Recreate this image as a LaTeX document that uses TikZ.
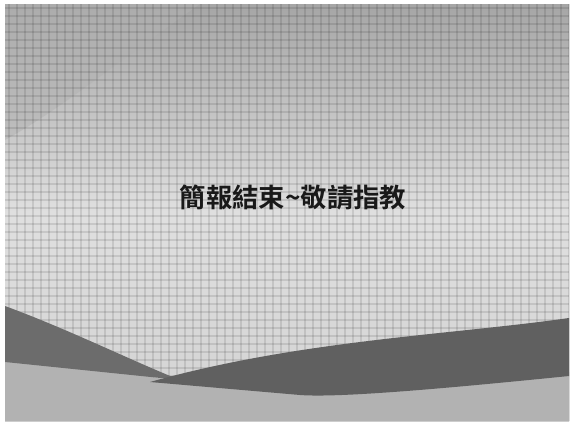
\documentclass[tikz,border=0pt]{standalone}
\usepackage{fontspec}
\newfontfamily\cjk{Noto Sans CJK TC}[BoldFont={Noto Sans CJK TC Bold}]
\usepackage{tikz}
\usetikzlibrary{calc}

\begin{document}
\begin{tikzpicture}[x=0.02cm,y=-0.02cm,
  every node/.style={inner sep=1pt},
  slidetitle/.style={font=\cjk\bfseries\fontsize{15}{18}\selectfont,text=black!90},
  texture/.style={black,opacity=0.1,line width=0.6pt}]

\useasboundingbox (0,0) rectangle (572,426);
\fill[white] (0,0) rectangle (572,426);

% slide background
\shade[top color=gray!70,bottom color=gray!35,middle color=gray!25] (5,4) rectangle (569,421);
\fill[gray!60,opacity=0.5] (5,4) -- (200,4) .. controls (120,60) and (60,110) .. (5,140) -- cycle;
\foreach \x in {9,17,...,569} \draw[texture] (\x,4) -- (\x,421);
\foreach \y in {8,16,...,421} \draw[texture] (5,\y) -- (569,\y);

% lower waves
\fill[gray!60] (5,350) -- (180,382) .. controls (320,400) and (450,385) .. (569,372) -- (569,421) -- (5,421) -- cycle;
\fill[gray!85!black] (5,306) .. controls (70,330) and (130,360) .. (180,380) -- (5,362) -- cycle;
\fill[gray!75!black] (150,382) .. controls (300,340) and (450,335) .. (569,318) -- (569,376) .. controls (450,388) and (340,398) .. (300,395) -- cycle;

\node[slidetitle] (title) at (293,197) {簡報結束\textasciitilde 敬請指教};

\end{tikzpicture}
\end{document}
